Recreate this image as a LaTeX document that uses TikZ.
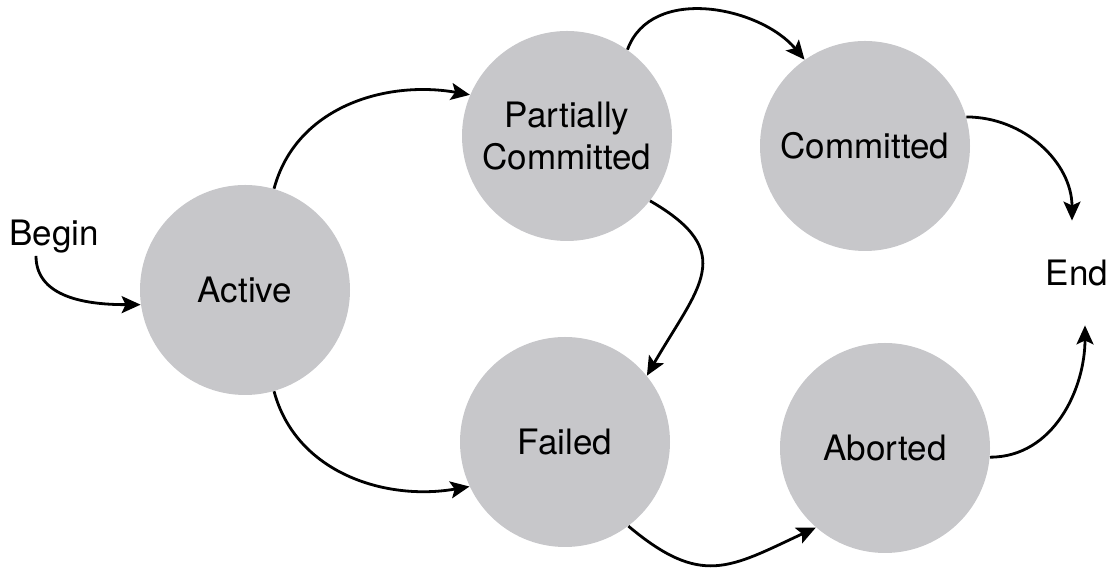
\documentclass[tikz,border=0pt]{standalone}
\usepackage{fontspec}
\setmainfont{TeX Gyre Heros}
\usetikzlibrary{arrows.meta, positioning}
\definecolor{stategray}{RGB}{199,199,202}

\begin{document}
\begin{tikzpicture}[x=0.5pt, y=0.5pt,
    txstate/.style={circle, fill=stategray, minimum size=105pt, inner sep=0pt, align=center, font=\fontsize{17.5}{21}\selectfont},
    endpoint/.style={font=\fontsize{17.5}{19}\selectfont},
    flow/.style={-{Stealth[length=9.5pt, width=8.5pt, inset=2pt]}, line width=1.4pt}]
    \useasboundingbox (0,0) rectangle (1115,571);

    \node[txstate] (active) at (245,281) {Active};
    \node[txstate] (partial) at (567,435) {Partially\\Committed};
    \node[txstate] (committed) at (865,425) {Committed};
    \node[txstate] (failed) at (565,129) {Failed};
    \node[txstate] (aborted) at (885,123) {Aborted};

    \node[endpoint, inner sep=1pt] (begin) at (54,334) {Begin};
    \node[endpoint, inner ysep=19.5pt] (end) at (1077,298) {End};

    \draw[flow] ([xshift=-9pt]begin.south) to[out=-90, in=180] (active.188);
    \draw[flow] (active.74) to[out=75, in=170] (partial.157);
    \draw[flow] (active.-74) to[out=-75, in=190] (failed.205);
    \draw[flow] (partial.55) to[out=70, in=130] (committed.125);
    \draw[flow] (partial.-38) to[out=-30, in=60, looseness=1.5] (failed.39);
    \draw[flow] (failed.-53) to[out=-40, in=205, looseness=1.3] (aborted.229);
    \draw[flow] (committed.16) to[out=0, in=90] ([xshift=-2.5pt]end.north);
    \draw[flow] (aborted.-5) to[out=0, in=-90] ([xshift=4pt]end.south);
\end{tikzpicture}
\end{document}
